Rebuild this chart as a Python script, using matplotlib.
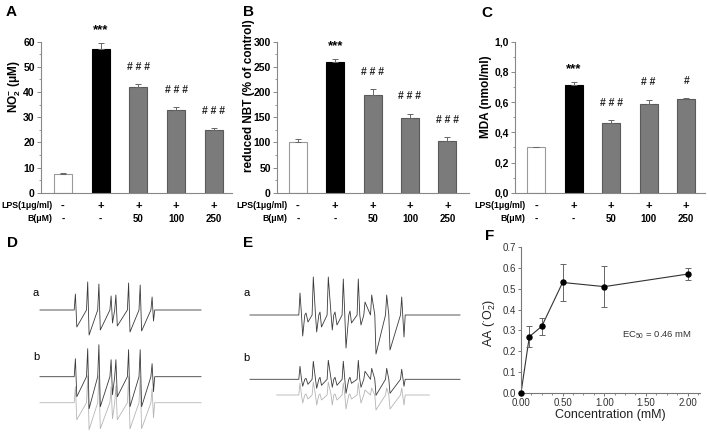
import matplotlib.pyplot as plt
from matplotlib.ticker import MultipleLocator, FuncFormatter
import matplotlib.transforms as mtrans
import numpy as np

plt.rcParams['font.family'] = ['Liberation Sans', 'DejaVu Sans']
plt.rcParams['mathtext.fontset'] = 'custom'
plt.rcParams['mathtext.rm'] = 'Liberation Sans'
plt.rcParams['mathtext.it'] = 'Liberation Sans:italic'
plt.rcParams['mathtext.bf'] = 'Liberation Sans:bold'

# ---- bar panels A, B, C ----
lps_row = ['-', '+', '+', '+', '+']
b_row = ['-', '-', '50', '100', '250']

no2_vals = [7.5, 57.0, 42.0, 33.0, 25.0]
no2_err = [0.3, 2.3, 1.0, 1.0, 0.7]
no2_sig = ['', '***', '###', '###', '###']

nbt_vals = [100, 260, 194, 148, 103]
nbt_err = [6, 6, 12, 9, 7]
nbt_sig = ['', '***', '###', '###', '###']

mda_vals = [0.30, 0.71, 0.46, 0.59, 0.62]
mda_err = [0.005, 0.02, 0.02, 0.025, 0.005]
mda_sig = ['', '***', '###', '##', '#']

# ---- panel F ----
conc = [0.0, 0.1, 0.25, 0.5, 1.0, 2.0]
aa = [0.0, 0.27, 0.32, 0.53, 0.51, 0.57]
aa_err = [0.0, 0.05, 0.04, 0.09, 0.10, 0.03]

# ---- EPR spectra D (field a.u., intensity a.u.) ----
d_lines = [36, 48.3, 59.5, 71.7, 76.5, 89.2, 100.8, 112.7]
d_a_up = [16, 28, 26, 14, 15, 27, 25, 13]
d_a_dn = [17, 25, 20, 13, 16, 22, 21, 11]
d_b_up = [18, 28, 32, 17, 17, 27, 27, 13]
d_b_dn = [20, 32, 30, 18, 20, 30, 30, 15]
d_sim_up = [16, 27, 27, 16, 17, 26, 26, 14]
d_sim_dn = [17, 27, 26, 16, 17, 26, 26, 15]

# ---- EPR spectra E ----
e_up_pos = [50, 56, 63.3, 70, 78.3, 85, 93.3, 100, 108.3, 115, 121.7, 136.7, 151.7]
e_dn_pos = [52.7, 58, 66.7, 71.5, 82.3, 87, 96, 101.5, 111, 126, 140, 154]
e_a_up = [22, 2, 38, 3, 38, 3, 36, 4, 36, 13, 20, 20, 18]
e_a_dn = [21, 7, 17, 12, 15, 10, 33, 8, 10, 39, 35, 22]
e_b_up = [13, 1, 18, 2, 19, 2, 18, 2, 19, 8, 11, 11, 10]
e_b_dn = [7, 5, 9, 6, 8, 6, 14, 4, 8, 16, 14, 7]
e_sim_up = [12, 1, 13, 1, 13, 1, 12, 1, 12, 5, 7, 7, 7]
e_sim_dn = [8, 4, 10, 5, 10, 5, 14, 4, 8, 15, 14, 10]


W, H = 708.0, 433.0
fig = plt.figure(figsize=(7.08, 4.33), dpi=100)


def px_axes(x0, y0, x1, y1):
    # axes from a pixel box, origin top left
    return fig.add_axes([x0 / W, 1 - y1 / H, (x1 - x0) / W, (y1 - y0) / H])


def bar_panel(ax, vals, errs, sig, ymax, major, minor, ylabel, lab_x, lab_y, xlim, comma=False):
    xs = np.arange(len(vals))
    faces = ['white', 'black', '#7b7b7b', '#7b7b7b', '#7b7b7b']
    edges = ['#9a9a9a', 'black', '#5a5a5a', '#5a5a5a', '#5a5a5a']
    ax.bar(xs, vals, width=0.48, color=faces, edgecolor=edges, linewidth=0.8, zorder=2)
    ax.errorbar(xs, vals, yerr=[np.zeros(len(errs)), errs], fmt='none', ecolor='#666666',
                elinewidth=0.7, capsize=2.5, capthick=0.7, zorder=3)
    for i in range(len(vals)):
        if sig[i].startswith('*'):
            ax.text(xs[i], vals[i] + errs[i] + 0.085 * ymax, sig[i], ha='center', va='center',
                    fontsize=9.5, fontweight='bold')
        elif sig[i]:
            # hash marks are printed with a gap between them
            ax.text(xs[i], vals[i] + errs[i] + 0.115 * ymax, ' '.join(sig[i]), ha='center',
                    va='center', fontsize=7.5, fontweight='bold', color='#222222')
    ax.set_ylim(0, ymax)
    ax.set_xlim(*xlim)
    ax.yaxis.set_major_locator(MultipleLocator(major))
    ax.yaxis.set_minor_locator(MultipleLocator(minor))
    if comma:
        ax.yaxis.set_major_formatter(FuncFormatter(lambda v, p: ('%.1f' % v).replace('.', ',')))
    ax.set_xticks([])
    for s in ['top', 'right']:
        ax.spines[s].set_visible(False)
    for s in ['left', 'bottom']:
        ax.spines[s].set_color('#888888')
        ax.spines[s].set_linewidth(0.8)
    ax.tick_params(axis='y', which='major', direction='out', length=3, width=0.7, color='#888888',
                   labelsize=7.5, pad=1.5)
    ax.tick_params(axis='y', which='minor', direction='out', length=1.6, width=0.6, color='#888888')
    for lbl in ax.get_yticklabels():
        lbl.set_fontweight('bold')
    ax.set_ylabel(ylabel, fontsize=8.5, fontweight='bold')
    ax.yaxis.set_label_coords(lab_x, lab_y)

    tr = mtrans.blended_transform_factory(ax.transData, ax.transAxes)
    ax.text(-0.28, -0.088, 'LPS(1\u03bcg/ml)', transform=tr, ha='right', va='center', fontsize=6.3,
            fontweight='bold')
    ax.text(-0.28, -0.174, 'B(\u03bcM)', transform=tr, ha='right', va='center', fontsize=6.3,
            fontweight='bold')
    for i in range(len(vals)):
        ax.text(xs[i], -0.088, lps_row[i], transform=tr, ha='center', va='center', fontsize=8,
                fontweight='bold')
        ax.text(xs[i], -0.174, b_row[i], transform=tr, ha='center', va='center', fontsize=7,
                fontweight='bold')


axA = px_axes(41, 41.7, 232, 192.7)
bar_panel(axA, no2_vals, no2_err, no2_sig, 60, 10, 5, r'NO$_\mathbf{2}^{\mathbf{-}}$ ($\mathbf{\mu}$M)',
          -0.093, 0.70, (-0.58, 4.48))
axB = px_axes(277, 41.7, 469, 192.7)
bar_panel(axB, nbt_vals, nbt_err, nbt_sig, 300, 50, 25, 'reduced NBT (% of control)',
          -0.115, 0.64, (-0.56, 4.58))
axC = px_axes(515, 41.7, 705, 192.7)
bar_panel(axC, mda_vals, mda_err, mda_sig, 1.0, 0.2, 0.1, 'MDA (nmol/ml)',
          -0.123, 0.635, (-0.56, 4.5), comma=True)


# ---- spectra ----
def build_trace(up_pos, up_val, dn_pos, dn_val, start, stop):
    pts = [(p, v) for p, v in zip(up_pos, up_val)] + [(p, -v) for p, v in zip(dn_pos, dn_val)]
    pts.sort()
    xs = [start]
    ys = [0.0]
    prev = start
    for p, v in pts:
        if p - prev > 2.4:
            xs.append(p - 1.2)
            ys.append(0.0)
        xs.append(p)
        ys.append(v)
        prev = p
    xs.append(prev + 1.2)
    ys.append(0.0)
    xs.append(stop)
    ys.append(0.0)
    return np.array(xs), np.array(ys)


axD = px_axes(30, 230, 210, 433)
axD.set_xlim(-10, 170)
axD.set_ylim(-123, 80)
axD.axis('off')
dn_d = [p + 0.8 for p in d_lines]
up_d = [p - 0.6 for p in d_lines]
x, y = build_trace(up_d, d_a_up, dn_d, d_a_dn, 0, 161)
axD.plot(x, y, color='#3a3a3a', lw=0.6)
x, y = build_trace(up_d, d_sim_up, dn_d, d_sim_dn, 0, 161)
axD.plot(x, y - 92.7, color='#b5b5b5', lw=0.6)
x, y = build_trace(up_d, d_b_up, dn_d, d_b_dn, 0, 161)
axD.plot(x, y - 66.7, color='#3a3a3a', lw=0.6)
axD.text(-4, 17.5, 'a', fontsize=8, ha='center', va='center')
axD.text(-4, -47.5, 'b', fontsize=8, ha='center', va='center')

axE = px_axes(240, 230, 470, 433)
axE.set_xlim(-10, 220)
axE.set_ylim(-118, 85)
axE.axis('off')
x, y = build_trace(e_up_pos, e_a_up, e_dn_pos, e_a_dn, 0, 210)
axE.plot(x, y, color='#3a3a3a', lw=0.6)
x, y = build_trace(e_up_pos, e_sim_up, e_dn_pos, e_sim_dn, 26.7, 179.3)
axE.plot(x, y - 80, color='#b5b5b5', lw=0.6)
x, y = build_trace(e_up_pos, e_b_up, e_dn_pos, e_b_dn, 0, 210)
axE.plot(x, y - 64.3, color='#3a3a3a', lw=0.6)
axE.text(-3.3, 22.3, 'a', fontsize=8, ha='center', va='center')
axE.text(-3.3, -42.7, 'b', fontsize=8, ha='center', va='center')


# ---- panel F ----
axF = px_axes(521, 247, 700, 393)
axF.plot(conc, aa, color='#333333', lw=0.8, zorder=2)
axF.errorbar(conc[1:], aa[1:], yerr=aa_err[1:], fmt='none', ecolor='#666666', elinewidth=0.7,
             capsize=2.5, capthick=0.7, zorder=2)
axF.plot(conc, aa, 'o', color='black', ms=3.6, zorder=3, clip_on=False)
axF.set_xlim(0, 2.15)
axF.set_ylim(0, 0.7)
axF.xaxis.set_major_locator(MultipleLocator(0.5))
axF.xaxis.set_minor_locator(MultipleLocator(0.125))
axF.yaxis.set_major_locator(MultipleLocator(0.1))
axF.xaxis.set_major_formatter(FuncFormatter(lambda v, p: '%.2f' % v))
axF.yaxis.set_major_formatter(FuncFormatter(lambda v, p: '%.1f' % v))
for s in ['top', 'right']:
    axF.spines[s].set_visible(False)
for s in ['left', 'bottom']:
    axF.spines[s].set_color('#777777')
    axF.spines[s].set_linewidth(0.8)
axF.tick_params(which='major', direction='out', length=2.5, width=0.7, color='#777777',
                labelsize=7, labelcolor='#333333', pad=1)
axF.tick_params(which='minor', direction='out', length=1.5, width=0.6, color='#777777')
for lbl in axF.get_xticklabels() + axF.get_yticklabels():
    lbl.set_fontweight('normal')
# first x label sits to the right of the corner
axF.get_xticklabels()[0].set_transform(axF.get_xticklabels()[0].get_transform() +
                                        mtrans.ScaledTranslation(8 / 100, 0, fig.dpi_scale_trans))
axF.set_xlabel('Concentration (mM)', fontsize=9, color='#222222', labelpad=1)
axF.set_ylabel(r'AA ($^{\bullet}$O$_2^{-}$)', fontsize=9, color='#222222')
axF.yaxis.set_label_coords(-0.13, 0.48)
axF.text(1.63, 0.278, r'EC$_{50}$ = 0.46 mM', fontsize=6.8, ha='center', va='center', color='#333333')

# ---- panel letters ----
for lett, px, py in [('A', 11, 12), ('B', 248, 12), ('C', 487, 13), ('D', 13, 243),
                     ('E', 248, 243), ('F', 490, 236)]:
    fig.text(px / W, 1 - py / H, lett, fontsize=11, fontweight='bold', ha='center', va='center')

fig.savefig('out.png', dpi=100)
